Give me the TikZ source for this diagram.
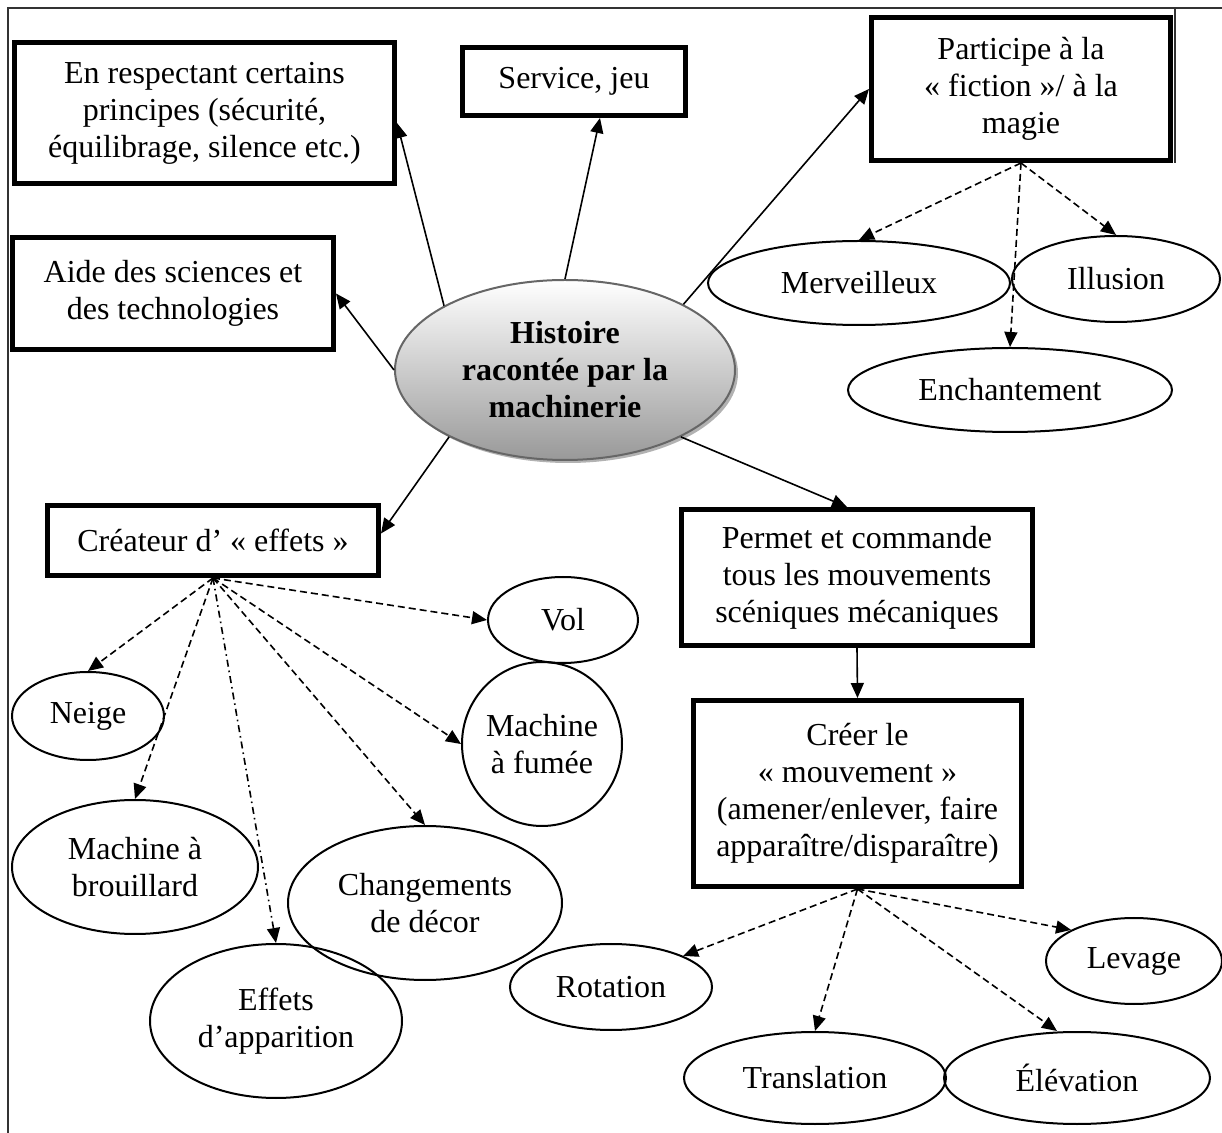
\documentclass[tikz,border=0pt]{standalone}
\usepackage{fontspec}
\setmainfont{Liberation Serif}
\usepackage{tikz}
\usetikzlibrary{positioning, arrows.meta, shapes.geometric, shadows}
\tikzset{
  boite/.style={draw, fill=white, line width=2.5pt, align=center, inner sep=0pt, font=\fontsize{16}{18.5}\selectfont},
  bulle/.style={draw, ellipse, line width=1pt, align=center, inner sep=0pt, font=\fontsize{16}{18.5}\selectfont},
  fleche/.style={line width=0.8pt, -{Triangle[length=7.5pt,width=6.5pt]}},
  pointille/.style={fleche, dash pattern=on 3.5pt off 2pt},
  tiretpoint/.style={fleche, dash pattern=on 3.5pt off 2pt on 0.8pt off 2pt},
}

\begin{document}
\begin{tikzpicture}[x=0.5pt, y=-0.5pt]
    \useasboundingbox (0,0) rectangle (1222,1133);
    % Cadre
    \draw[line width=1pt, black!80] (8,1133) -- (8,8) -- (1222,8);
    \draw[line width=1pt, black!80] (1175,8) -- (1175,163);
    % Centre
    \node[ellipse, draw=black!60, line width=1pt, top color=white, bottom color=black!40,
          drop shadow={shadow xshift=1.5pt, shadow yshift=-1.5pt, fill=black!30, opacity=1},
          minimum width=170pt, minimum height=90pt, inner sep=0pt, align=center,
          font=\bfseries\fontsize{16}{18.5}\selectfont] (hist) at (565,370)
          {Histoire\\racontée par la\\machinerie};
    % Boites
    \node[boite, minimum width=190pt, minimum height=70.5pt] (resp) at (204.5,113)
          {En respectant certains\\principes (sécurité,\\équilibrage, silence etc.)};
    \node[boite, minimum width=111.5pt, minimum height=34pt] (serv) at (574,81.5) {Service, jeu};
    \node[boite, minimum width=149.5pt, minimum height=71.5pt] (part) at (1021,89)
          {Participe à la\\« fiction »/ à la\\magie};
    \node[boite, minimum width=160.5pt, minimum height=56pt] (aide) at (173,293.5)
          {Aide des sciences et\\des technologies};
    \node[boite, minimum width=165.5pt, minimum height=35pt] (crea) at (213,540.5)
          {Créateur d’ « effets »};
    \node[boite, minimum width=175.5pt, minimum height=68pt] (perm) at (857,577.5)
          {Permet et commande\\tous les mouvements\\scéniques mécaniques};
    \node[boite, minimum width=164pt, minimum height=93pt] (crer) at (857.5,793.5)
          {Créer le\\« mouvement »\\(amener/enlever, faire\\apparaître/disparaître)};
    % Bulles
    \node[bulle, minimum width=151pt, minimum height=42pt] (merv) at (859,283) {Merveilleux};
    \node[bulle, minimum width=104pt, minimum height=43pt] (illu) at (1116,279) {Illusion};
    \node[bulle, minimum width=162pt, minimum height=42pt] (ench) at (1010,390) {Enchantement};
    \node[bulle, minimum width=75pt, minimum height=43pt] (vol) at (563,620) {Vol};
    \node[bulle, minimum width=76pt, minimum height=44pt] (neige) at (88,716) {Neige};
    \node[bulle, minimum width=80pt, minimum height=82pt] (fumee) at (542,744) {Machine\\à fumée};
    \node[bulle, minimum width=123pt, minimum height=67pt] (brouil) at (135,867) {Machine à\\brouillard};
    \node[bulle, minimum width=137pt, minimum height=77pt] (decor) at (425,903) {Changements\\de décor};
    \node[bulle, minimum width=126pt, minimum height=77pt] (effets) at (276,1021) {Effets\\d’apparition};
    \node[bulle, minimum width=101pt, minimum height=43pt] (rota) at (611,987) {Rotation};
    \node[bulle, minimum width=131pt, minimum height=46pt] (trans) at (815,1078) {Translation};
    \node[bulle, minimum width=133pt, minimum height=46pt] (elev) at (1077,1078) {Élévation};
    \node[bulle, minimum width=88pt, minimum height=43pt] (lev) at (1134,961) {Levage};
    % Fleches du centre
    \draw[fleche] (hist.152) -- ([yshift=-5pt]resp.east);
    \draw[fleche] (hist.north) -- ([xshift=13pt]serv.south);
    \draw[fleche] (hist.29) -- (part.west);
    \draw[fleche] (hist.west) -- (aide.east);
    \draw[fleche] (hist.210) -- ([yshift=3.5pt]crea.east);
    \draw[fleche] (hist.330) -- ([xshift=-5pt]perm.north);
    \draw[fleche] (perm.south) -- (crer.north);
    % Magie
    \foreach \cible in {merv, illu, ench} {
        \draw[pointille] (part.south) -- (\cible.north);
    }
    % Effets
    \draw[pointille] (crea.south) -- (neige.north);
    \draw[pointille] (crea.south) -- (brouil.north);
    \draw[tiretpoint] (crea.south) -- (effets.north);
    \draw[pointille] (crea.south) -- (decor.north);
    \draw[pointille] (crea.south) -- (fumee.west);
    \draw[pointille] (crea.south) -- (vol.west);
    % Mouvements
    \draw[pointille] (crer.south) -- (rota.north east);
    \draw[pointille] (crer.south) -- (trans.north);
    \draw[pointille] (crer.south) -- ([xshift=-10pt]elev.north);
    \draw[pointille] (crer.south) -- (lev.north west);
\end{tikzpicture}
\end{document}
